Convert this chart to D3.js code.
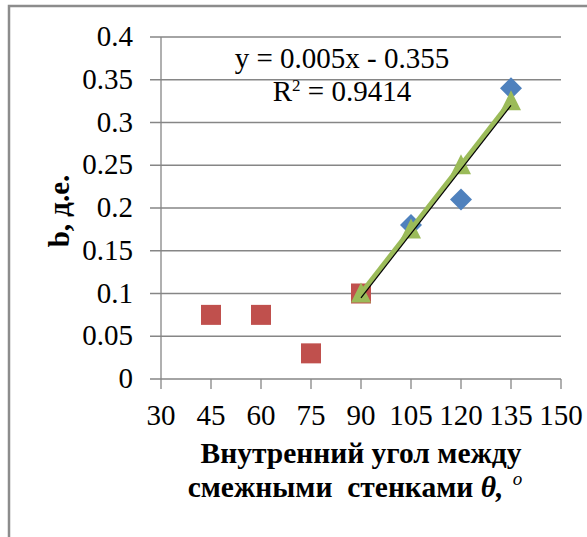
<!DOCTYPE html>
<html><head><meta charset="utf-8">
<script src="https://cdn.jsdelivr.net/npm/d3@7"></script>
<style>body{margin:0;background:#fff}svg{display:block}</style>
</head><body>
<svg id="c" width="587" height="537"></svg>
<script>
// Data
const xTicks = [30, 45, 60, 75, 90, 105, 120, 135, 150];
const yTicks = [0, 0.05, 0.1, 0.15, 0.2, 0.25, 0.3, 0.35, 0.4];
const blueX = [105, 120, 135];
const blueY = [0.18, 0.21, 0.34];
const redX = [45, 60, 75, 90];
const redY = [0.075, 0.075, 0.03, 0.1];
const greenX = [90, 105, 120, 135];
const greenY = [0.1, 0.175, 0.25, 0.325];
const trendSlope = 0.005, trendIntercept = -0.355;
const trendRange = [90, 135];
const eqText = "y = 0.005x - 0.355";
const r2Value = "0.9414";
const xTitle = ["Внутренний угол между", "смежными  стенками "];
const yTitle = "b, д.е.";

const svg = d3.select("#c");
const serif = "Liberation Serif, Times New Roman, serif";
const grid = "#868686";

// frame
svg.append("path").attr("d","M9,540 L9,6 L590,6").attr("fill","none").attr("stroke","#8c8c8c").attr("stroke-width",2.5);

const x = d3.scaleLinear().domain([30,150]).range([161,561]);
const y = d3.scaleLinear().domain([0,0.4]).range([379,37]);

// gridlines
svg.append("g").selectAll("line").data(yTicks).join("line")
  .attr("x1",150).attr("x2",561).attr("y1",d=>y(d)).attr("y2",d=>y(d))
  .attr("stroke",grid).attr("stroke-width",1.3);
svg.append("line").attr("x1",161).attr("x2",161).attr("y1",y(0.4)).attr("y2",y(0)).attr("stroke",grid).attr("stroke-width",1.3);
svg.append("g").selectAll("line").data(xTicks).join("line")
  .attr("x1",d=>x(d)).attr("x2",d=>x(d)).attr("y1",379).attr("y2",389)
  .attr("stroke",grid).attr("stroke-width",1.3);

function stext(px, py, str, anchor, size, weight){
  return svg.append("text").attr("x",px).attr("y",py)
    .attr("text-anchor",anchor).attr("font-family",serif).attr("font-size",size)
    .attr("font-weight",weight||"normal").attr("fill","#000").text(str);
}
yTicks.forEach(t=>stext(133, y(t)+9, String(t), "end", 29));
xTicks.forEach(t=>stext(x(t), 425, String(t), "middle", 29));

// markers
svg.append("g").selectAll("path").data(blueX.map((d,i)=>[d,blueY[i]])).join("path")
  .attr("d",d=>{const cx=x(d[0]),cy=y(d[1]);return `M${cx},${cy-11}L${cx+11},${cy}L${cx},${cy+11}L${cx-11},${cy}Z`;})
  .attr("fill","#4F81BD");
svg.append("g").selectAll("rect").data(redX.map((d,i)=>[d,redY[i]])).join("rect")
  .attr("x",d=>x(d[0])-10).attr("y",d=>y(d[1])-10).attr("width",20).attr("height",20)
  .attr("fill","#C0504D");
const gpts = greenX.map((d,i)=>[d,greenY[i]]);
svg.append("path").datum(gpts).attr("d",d3.line().x(d=>x(d[0])).y(d=>y(d[1])))
  .attr("fill","none").attr("stroke","#9BBB59").attr("stroke-width",5);
svg.append("g").selectAll("path").data(gpts).join("path")
  .attr("d",d=>{const cx=x(d[0]),cy=y(d[1]);return `M${cx},${cy-11}L${cx+10},${cy+9}L${cx-10},${cy+9}Z`;})
  .attr("fill","#9BBB59");
svg.append("line")
  .attr("x1",x(trendRange[0])).attr("y1",y(trendSlope*trendRange[0]+trendIntercept))
  .attr("x2",x(trendRange[1])).attr("y2",y(trendSlope*trendRange[1]+trendIntercept))
  .attr("stroke","#000").attr("stroke-width",1.2);

// equation
stext(342, 68, eqText, "middle", 29);
const r2 = stext(342, 101, "", "middle", 29);
r2.append("tspan").text("R");
r2.append("tspan").attr("font-size",17).attr("dy",-10).text("2");
r2.append("tspan").attr("dy",10).text(" = " + r2Value);

// axis titles
stext(361, 463, xTitle[0], "middle", 29.5, "bold");
const t2 = stext(355, 497, xTitle[1], "middle", 29.5, "bold");
t2.style("white-space","pre");
t2.append("tspan").attr("font-style","italic").text("θ,");
t2.append("tspan").attr("font-style","italic").attr("font-weight","normal").attr("font-size",19).attr("dy",-12).text("  o");

svg.append("text").attr("transform","translate(69,211) rotate(-90)")
  .attr("text-anchor","middle").attr("font-family",serif).attr("font-size",29)
  .attr("font-weight","bold").text(yTitle);
</script>
</body></html>
